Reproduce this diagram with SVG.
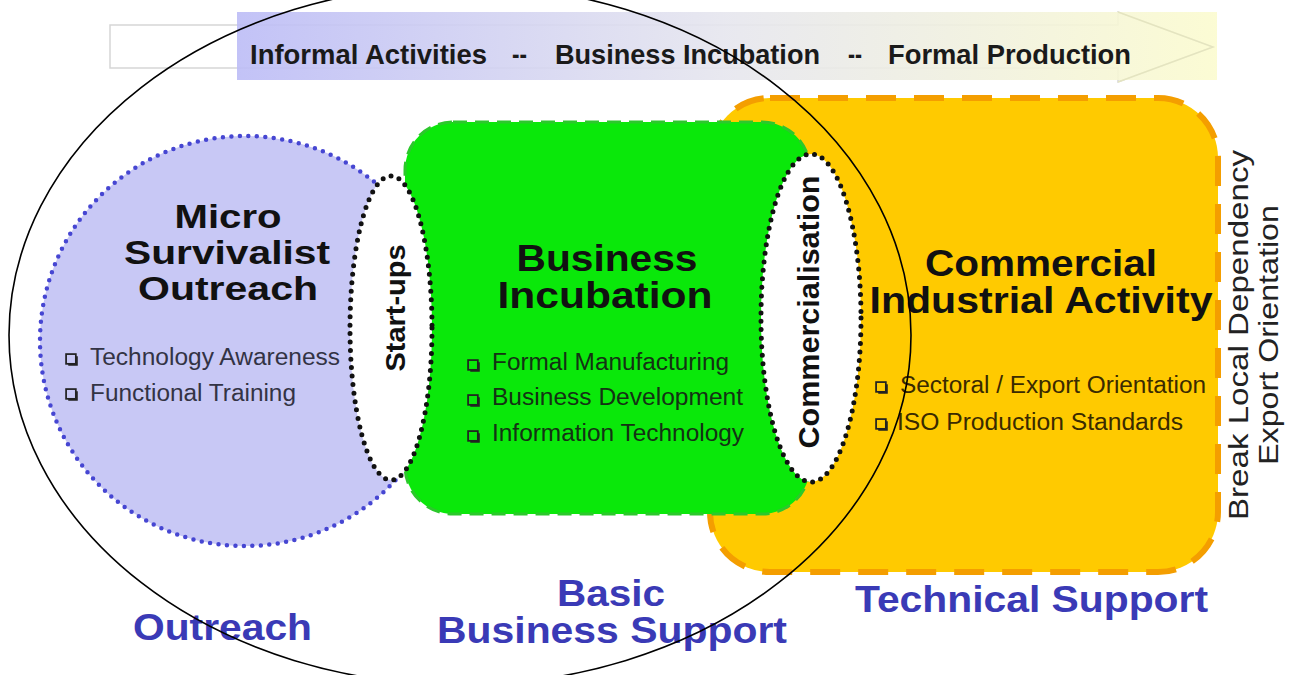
<svg xmlns="http://www.w3.org/2000/svg" xmlns:xlink="http://www.w3.org/1999/xlink" width="1290" height="675" viewBox="0 0 1290 675">
<defs>
<linearGradient id="bannerGrad" x1="0" y1="0" x2="1" y2="0">
<stop offset="0" stop-color="#bcbcf6"/>
<stop offset="0.5" stop-color="#e6e6ee"/>
<stop offset="1" stop-color="#fbfbcf"/>
</linearGradient>
<symbol id="bullet" viewBox="0 0 12 12" overflow="visible">
<rect x="1" y="1" width="9" height="9" fill="none" stroke="#222" stroke-width="1.6"/>
<path d="M3 11 H11 V3" fill="none" stroke="#222" stroke-width="1.6"/>
</symbol>
</defs>
<style>
.bold{font-family:"Liberation Sans",Arial,sans-serif;font-weight:bold}
.reg{font-family:"Liberation Sans",Arial,sans-serif}
.title{font-size:36px;fill:#111}
.item{font-size:23px}
.blue{font-size:37px;fill:#3a3ab6}
.dots{fill:#fff;stroke:#111;stroke-width:5;stroke-dasharray:0 8.5;stroke-linecap:round}
</style>
<rect width="1290" height="675" fill="#fff"/>

<g id="banner">
<polygon points="110,25 1118,25 1118,12 1213,47 1118,82 1118,68 110,68" fill="#fff" stroke="#d6d6d6" stroke-width="1.5"/>
<rect x="237" y="12" width="980" height="68" fill="url(#bannerGrad)" fill-opacity="0.9"/>
<polyline points="1118,12 1213,47 1118,82" fill="none" stroke="#e4e4c0" stroke-width="1.5"/>
<g class="bold" font-size="28" fill="#1a1a1a">
<text x="250" y="64" textLength="237" lengthAdjust="spacingAndGlyphs">Informal Activities</text>
<text x="512" y="64" textLength="15" lengthAdjust="spacingAndGlyphs">--</text>
<text x="555" y="64" textLength="265" lengthAdjust="spacingAndGlyphs">Business Incubation</text>
<text x="848" y="64" textLength="14" lengthAdjust="spacingAndGlyphs">--</text>
<text x="888" y="64" textLength="243" lengthAdjust="spacingAndGlyphs">Formal Production</text>
</g>
</g>

<g id="outreach-circle">
<circle cx="245" cy="341" r="205" fill="#c8c8f5" stroke="#4646d2" stroke-width="4.5" stroke-dasharray="0 8.5" stroke-linecap="round"/>
<g class="bold" font-size="33" fill="#111" text-anchor="middle">
<text x="228" y="228" textLength="107" lengthAdjust="spacingAndGlyphs">Micro</text>
<text x="227" y="264" textLength="206" lengthAdjust="spacingAndGlyphs">Survivalist</text>
<text x="228" y="300" textLength="180" lengthAdjust="spacingAndGlyphs">Outreach</text>
</g>
<use href="#bullet" x="65" y="353" width="13" height="13"/>
<use href="#bullet" x="65" y="388" width="13" height="13"/>
<g class="reg item" fill="#333344">
<text x="90" y="365" textLength="250" lengthAdjust="spacingAndGlyphs">Technology Awareness</text>
<text x="90" y="401" textLength="206" lengthAdjust="spacingAndGlyphs">Functional Training</text>
</g>
</g>

<g id="commercial-box">
<rect x="710" y="98" width="508" height="474" rx="60" fill="#ffca00" stroke="#f49e00" stroke-width="6" stroke-dasharray="30 18"/>
<g class="bold title" text-anchor="middle">
<text x="1041" y="276" textLength="232" lengthAdjust="spacingAndGlyphs">Commercial</text>
<text x="1041" y="313" textLength="343" lengthAdjust="spacingAndGlyphs">Industrial Activity</text>
</g>
<use href="#bullet" x="875" y="381" width="13" height="13"/>
<use href="#bullet" x="875" y="418" width="13" height="13"/>
<g class="reg item" fill="#3a2a00">
<text x="900" y="393" textLength="306" lengthAdjust="spacingAndGlyphs">Sectoral / Export Orientation</text>
<text x="897" y="430" textLength="286" lengthAdjust="spacingAndGlyphs">ISO Production Standards</text>
</g>
</g>

<g id="incubation-box">
<rect x="405" y="122" width="405" height="392" rx="48" fill="#0ae80a" stroke="#2cc82c" stroke-width="3" stroke-dasharray="14 8"/>
<g class="bold title" text-anchor="middle">
<text x="607" y="271" textLength="181" lengthAdjust="spacingAndGlyphs">Business</text>
<text x="605" y="308" textLength="215" lengthAdjust="spacingAndGlyphs">Incubation</text>
</g>
<use href="#bullet" x="467" y="359" width="13" height="13"/>
<use href="#bullet" x="467" y="394" width="13" height="13"/>
<use href="#bullet" x="467" y="430" width="13" height="13"/>
<g class="reg item" fill="#143214">
<text x="492" y="370" textLength="237" lengthAdjust="spacingAndGlyphs">Formal Manufacturing</text>
<text x="492" y="405" textLength="251" lengthAdjust="spacingAndGlyphs">Business Development</text>
<text x="492" y="441" textLength="252" lengthAdjust="spacingAndGlyphs">Information Technology</text>
</g>
</g>

<g id="startups">
<ellipse cx="391" cy="328" rx="41" ry="152" class="dots"/>
<text class="bold" font-size="28" fill="#111" text-anchor="middle" transform="translate(405 308) rotate(-90)" textLength="127" lengthAdjust="spacingAndGlyphs">Start-ups</text>
</g>

<g id="commercialisation">
<ellipse cx="811" cy="318" rx="50" ry="164" class="dots"/>
<text class="bold" font-size="29" fill="#111" text-anchor="middle" transform="translate(819 312) rotate(-90)" textLength="273" lengthAdjust="spacingAndGlyphs">Commercialisation</text>
</g>

<g id="side-labels" class="reg" font-size="28" fill="#222" text-anchor="middle">
<text transform="translate(1248 335) rotate(-90)" textLength="370" lengthAdjust="spacingAndGlyphs">Break Local Dependency</text>
<text transform="translate(1278 335) rotate(-90)" textLength="260" lengthAdjust="spacingAndGlyphs">Export Orientation</text>
</g>

<g id="bottom-labels" class="bold blue">
<text x="133" y="640" textLength="179" lengthAdjust="spacingAndGlyphs">Outreach</text>
<text x="611" y="606" text-anchor="middle" textLength="108" lengthAdjust="spacingAndGlyphs">Basic</text>
<text x="437" y="643" textLength="350" lengthAdjust="spacingAndGlyphs">Business Support</text>
<text x="855" y="612" textLength="353" lengthAdjust="spacingAndGlyphs">Technical Support</text>
</g>

<g id="connectors">
<ellipse cx="460" cy="335" rx="451" ry="350" fill="none" stroke="#000" stroke-width="1.6"/>
</g>
</svg>
